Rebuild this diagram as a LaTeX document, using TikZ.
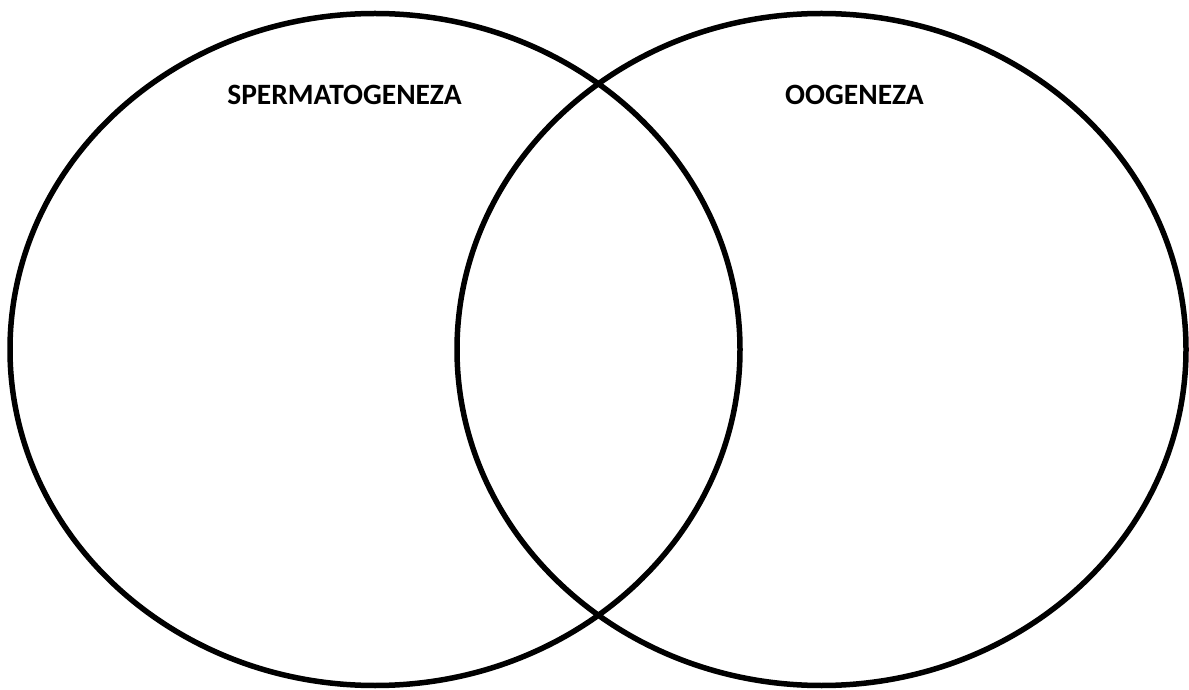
\documentclass[tikz,border=0pt]{standalone}
\usepackage{fontspec}
\setmainfont{Carlito}
\usetikzlibrary{shapes.geometric}
\tikzset{
  setring/.style={draw=black, line width=5.5pt, ellipse, inner sep=0pt, outer sep=0pt},
  setlabel/.style={font=\fontsize{29.5}{34}\selectfont\bfseries, anchor=base, inner sep=0pt}
}
\begin{document}
\begin{tikzpicture}[x=1pt,y=1pt]
\useasboundingbox (0,0) rectangle (1189,689);
\node[setring, minimum width=730pt, minimum height=672pt] (left) at (375,339.5) {};
\node[setring, minimum width=729pt, minimum height=672pt] (right) at (821.5,339.5) {};
\node[setlabel] (sp) at (344.5,584) {SPERMATOGENEZA};
\node[setlabel] (oo) at (854.5,584) {OOGENEZA};
\end{tikzpicture}
\end{document}
